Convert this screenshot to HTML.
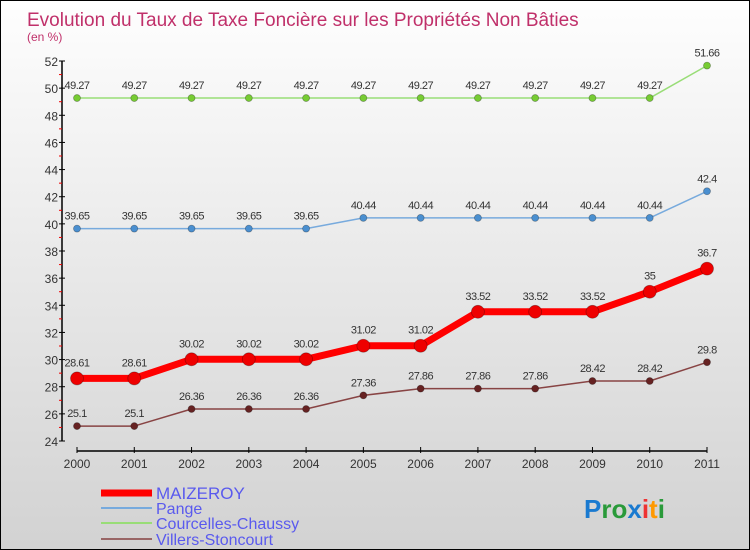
<!DOCTYPE html>
<html><head><meta charset="utf-8"><style>
body{margin:0}
#c{width:748px;height:548px;border:1px solid #000;background:linear-gradient(#fefefe,#d2d2d2);position:relative;overflow:hidden;font-family:"Liberation Sans",sans-serif}
svg{position:absolute;left:0;top:0}
</style></head><body>
<div id="c">
<svg id="s" width="750" height="550"></svg>
</div>
<script>
const years=[2000,2001,2002,2003,2004,2005,2006,2007,2008,2009,2010,2011];
const maizeroy=[28.61,28.61,30.02,30.02,30.02,31.02,31.02,33.52,33.52,33.52,35,36.7];
const pange=[39.65,39.65,39.65,39.65,39.65,40.44,40.44,40.44,40.44,40.44,40.44,42.4];
const courcelles=[49.27,49.27,49.27,49.27,49.27,49.27,49.27,49.27,49.27,49.27,49.27,51.66];
const villers=[25.1,25.1,26.36,26.36,26.36,27.36,27.86,27.86,27.86,28.42,28.42,29.8];
const yTicks=[24,26,28,30,32,34,36,38,40,42,44,46,48,50,52];
const seriesNames=["MAIZEROY","Pange","Courcelles-Chaussy","Villers-Stoncourt"];
const s=document.getElementById('s');const NS='http://www.w3.org/2000/svg';
function X(i){return 76+i*(706-76)/(years.length-1);}
function Y(v){return 440-(v-24)*(380/28);}
function el(t,a,p){const e=document.createElementNS(NS,t);for(const k in a)e.setAttribute(k,a[k]);(p||s).appendChild(e);return e;}
function txt(x,y,t,a){const e=el('text',Object.assign({x:x,y:y},a));e.textContent=t;return e;}
let e;
e=txt(26,25,"Evolution du Taux de Taxe Foncière sur les Propriétés Non Bâties",{fill:'#c0306a','font-size':19});

e=txt(26,40,"(en %)",{fill:'#c0306a','font-size':12});

// axes
e=el('line',{x1:61,y1:60,x2:61,y2:440,stroke:'#000','stroke-width':1.5});

e=el('line',{x1:76,y1:450,x2:706,y2:450,stroke:'#000','stroke-width':1.5});

yTicks.forEach((v,i)=>{
 e=el('line',{x1:58,y1:Y(v),x2:64,y2:Y(v),stroke:'#000'});
 
 e=txt(57,Y(v)+5,String(v),{'text-anchor':'end','font-size':12,fill:'#333'});
 
 if(i<yTicks.length-1){e=el('line',{x1:58,y1:Y(v+1),x2:61,y2:Y(v+1),stroke:'#e00'});
 }
});
years.forEach((yr,i)=>{
 e=el('line',{x1:X(i),y1:446,x2:X(i),y2:452,stroke:'#000'});
 
 e=txt(X(i),467,String(yr),{'text-anchor':'middle','font-size':12,fill:'#333'});
 
});
function series(data,color,dot,lw,r,name,lblOff){
 const g=el('g',{});
 
 const pl=el('polyline',{points:data.map((v,i)=>X(i)+','+Y(v)).join(' '),fill:'none',stroke:color,'stroke-width':lw,'stroke-linejoin':'round'},g);
 
 data.forEach((v,i)=>{
  const c=el('circle',{cx:X(i),cy:Y(v),r:r,fill:dot,stroke:'rgba(0,0,0,0.3)','stroke-width':0.8},g);
  
  const t=txt(X(i),Y(v)-lblOff,String(v),{'text-anchor':'middle','font-size':11,fill:'#333','letter-spacing':'-0.5'},g);
  
 });
}
series(courcelles,'#99dd77','#77cc33',1.5,3.5,'courcelles',9);
series(pange,'#77aadd','#4a8fd0',1.5,3.5,'pange',9);
series(villers,'#884444','#662222',1.5,3.5,'villers',9);
series(maizeroy,'#ff0000','#ee0000',7,6.5,'maizeroy',12);
// legend
const lc=['#ff0000','#77aadd','#99dd77','#996666'],lw=[7,2,2,2],ly=[492,507,522,538];
seriesNames.forEach((n,i)=>{
 const g=el('g',{});
 
 el('line',{x1:100,y1:ly[i],x2:151,y2:ly[i],stroke:lc[i],'stroke-width':lw[i]},g);
 txt(155,ly[i]+6,n,{'font-size':i==0?17:16,fill:'#5a5aee'},g);
});
// logo
const lg=el('text',{x:583,y:517,'font-size':26,'font-weight':'bold'});

[['P','#1a7ad0'],['ro','#2a9a3a'],['x','#1a7ad0'],['i','#e33'],['t','#f90'],['i','#2a9a3a']].forEach(p=>{const t=el('tspan',{fill:p[1]},lg);t.textContent=p[0];});
</script>
</body></html>
